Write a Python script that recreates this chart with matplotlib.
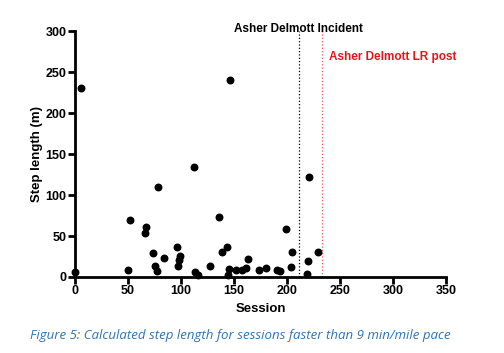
import matplotlib.pyplot as plt

# session number vs calculated step length (m)
sessions = [0, 6, 50, 52, 66, 67, 74, 75, 77, 78, 84, 96, 97, 98, 99,
            112, 113, 116, 127, 136, 139, 143, 144, 145, 146, 152, 158, 161, 163,
            174, 180, 191, 193, 199, 204, 205, 219, 220, 221, 229]
step_length = [6, 230, 8, 69, 54, 61, 29, 13, 7, 110, 23, 37, 13, 21, 26,
               134, 6, 3, 13, 73, 30, 36, 2, 10, 240, 8.5, 8, 11, 22,
               8.5, 10.5, 9, 7, 58, 12.5, 31, 3.5, 20, 122, 31]

incident_session = 211
lr_post_session = 233

fig = plt.figure(figsize=(5.04, 3.53), dpi=100)
ax = fig.add_axes([0.1488, 0.2153, 0.7362, 0.6967])

ax.scatter(sessions, step_length, s=22, color='black', zorder=3, clip_on=False)
ax.axvline(incident_session, color='black', linestyle=':', linewidth=0.9)
ax.axvline(lr_post_session, color='#e85a5a', linestyle=':', linewidth=0.9)

ax.text(incident_session, 302, 'Asher Delmott Incident', ha='center', va='center',
        fontsize=8.5, fontweight='bold', family='Liberation Sans')
ax.text(240, 268, 'Asher Delmott LR post', ha='left', va='center', color='#e8141c',
        fontsize=8.5, fontweight='bold', family='Liberation Sans')

ax.set_xlim(0, 350)
ax.set_ylim(0, 300)
ax.set_xticks(range(0, 351, 50))
ax.set_yticks(range(0, 301, 50))

for s in ['top', 'right']:
    ax.spines[s].set_visible(False)
for s in ['left', 'bottom']:
    ax.spines[s].set_linewidth(2)
ax.tick_params(width=2, length=5, labelsize=9, pad=1)
for lbl in ax.get_xticklabels() + ax.get_yticklabels():
    lbl.set_fontweight('bold')
    lbl.set_family('Liberation Sans')

ax.set_xlabel('Session', fontsize=9.5, fontweight='bold', family='Liberation Sans', labelpad=4)
ax.set_ylabel('Step length (m)', fontsize=9.5, fontweight='bold', family='Liberation Sans', labelpad=2)

fig.text(0.476, 0.05, 'Figure 5: Calculated step length for sessions faster than 9 min/mile pace',
         ha='center', va='center', color='#2e74b5', fontsize=9.5, style='italic', family='Open Sans')

fig.savefig('out.png', dpi=100)
